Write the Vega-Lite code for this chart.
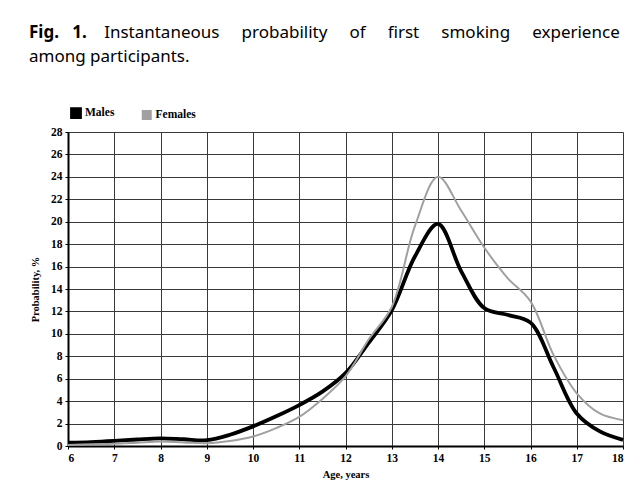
{
  "$schema": "https://vega.github.io/schema/vega-lite/v6.json",
  "width": 555,
  "height": 314,
  "autosize": {"type": "none"},
  "padding": {"left": 68, "top": 132, "right": 18, "bottom": 51},
  "background": "white",
  "title": {
    "text": "Fig.\u00a0\u00a0\u00a01.",
    "subtitle": [
      "\u200b\u00a0\u00a0\u00a0\u00a0\u00a0\u00a0\u00a0\u00a0\u00a0\u00a0\u00a0\u00a0\u00a0\u00a0\u00a0\u00a0\u00a0Instantaneous\u00a0\u00a0\u00a0\u00a0\u00a0probability\u00a0\u00a0\u00a0\u00a0\u00a0of\u00a0\u00a0\u00a0\u00a0\u00a0first\u00a0\u00a0\u00a0\u00a0\u00a0smoking\u00a0\u00a0\u00a0\u00a0\u00a0experience",
      "among participants."
    ],
    "anchor": "start",
    "frame": "group",
    "dx": -39,
    "offset": 41,
    "font": "Noto Sans",
    "fontSize": 17,
    "fontWeight": "bold",
    "color": "#000000",
    "subtitleFont": "Noto Sans",
    "subtitleFontSize": 17,
    "subtitleFontWeight": "normal",
    "subtitleColor": "#000000",
    "subtitleLineHeight": 24,
    "subtitlePadding": -17
  },
  "data": {
    "values": [
      {"age": 6, "p": 0.3, "sex": "Males"},
      {"age": 6.5, "p": 0.35, "sex": "Males"},
      {"age": 7, "p": 0.45, "sex": "Males"},
      {"age": 7.5, "p": 0.58, "sex": "Males"},
      {"age": 8, "p": 0.68, "sex": "Males"},
      {"age": 8.5, "p": 0.6, "sex": "Males"},
      {"age": 9, "p": 0.52, "sex": "Males"},
      {"age": 9.5, "p": 1.0, "sex": "Males"},
      {"age": 10, "p": 1.75, "sex": "Males"},
      {"age": 10.5, "p": 2.65, "sex": "Males"},
      {"age": 11, "p": 3.65, "sex": "Males"},
      {"age": 11.5, "p": 4.85, "sex": "Males"},
      {"age": 12, "p": 6.5, "sex": "Males"},
      {"age": 12.5, "p": 9.2, "sex": "Males"},
      {"age": 13, "p": 12.1, "sex": "Males"},
      {"age": 13.5, "p": 16.9, "sex": "Males"},
      {"age": 14, "p": 19.8, "sex": "Males"},
      {"age": 14.5, "p": 15.6, "sex": "Males"},
      {"age": 15, "p": 12.3, "sex": "Males"},
      {"age": 15.5, "p": 11.7, "sex": "Males"},
      {"age": 16, "p": 11.0, "sex": "Males"},
      {"age": 16.5, "p": 7.0, "sex": "Males"},
      {"age": 17, "p": 2.9, "sex": "Males"},
      {"age": 17.5, "p": 1.3, "sex": "Males"},
      {"age": 18, "p": 0.55, "sex": "Males"},
      {"age": 6, "p": 0.1, "sex": "Females"},
      {"age": 6.5, "p": 0.15, "sex": "Females"},
      {"age": 7, "p": 0.2, "sex": "Females"},
      {"age": 7.5, "p": 0.3, "sex": "Females"},
      {"age": 8, "p": 0.4, "sex": "Females"},
      {"age": 8.5, "p": 0.32, "sex": "Females"},
      {"age": 9, "p": 0.25, "sex": "Females"},
      {"age": 9.5, "p": 0.45, "sex": "Females"},
      {"age": 10, "p": 0.85, "sex": "Females"},
      {"age": 10.5, "p": 1.6, "sex": "Females"},
      {"age": 11, "p": 2.6, "sex": "Females"},
      {"age": 11.5, "p": 4.2, "sex": "Females"},
      {"age": 12, "p": 6.2, "sex": "Females"},
      {"age": 12.5, "p": 9.5, "sex": "Females"},
      {"age": 13, "p": 12.4, "sex": "Females"},
      {"age": 13.5, "p": 19.6, "sex": "Females"},
      {"age": 14, "p": 24.0, "sex": "Females"},
      {"age": 14.5, "p": 21.0, "sex": "Females"},
      {"age": 15, "p": 17.7, "sex": "Females"},
      {"age": 15.5, "p": 15.0, "sex": "Females"},
      {"age": 16, "p": 12.9, "sex": "Females"},
      {"age": 16.5, "p": 8.1, "sex": "Females"},
      {"age": 17, "p": 4.7, "sex": "Females"},
      {"age": 17.5, "p": 2.9, "sex": "Females"},
      {"age": 18, "p": 2.3, "sex": "Females"}
    ]
  },
  "mark": {"type": "line", "interpolate": "catmull-rom"},
  "encoding": {
    "x": {
      "field": "age",
      "type": "quantitative",
      "scale": {"domain": [6, 18], "nice": false},
      "axis": {
        "values": [6, 7, 8, 9, 10, 11, 12, 13, 14, 15, 16, 17, 18],
        "title": "Age, years",
        "titlePadding": 6
      }
    },
    "y": {
      "field": "p",
      "type": "quantitative",
      "scale": {"domain": [0, 28], "nice": false},
      "axis": {
        "values": [0, 2, 4, 6, 8, 10, 12, 14, 16, 18, 20, 22, 24, 26, 28],
        "title": "Probability, %",
        "titlePadding": 10
      }
    },
    "color": {
      "field": "sex",
      "type": "nominal",
      "scale": {"domain": ["Males", "Females"], "range": ["#000000", "#a0a0a0"]},
      "legend": {
        "title": null,
        "orient": "none",
        "legendX": 2,
        "legendY": -25,
        "direction": "horizontal",
        "symbolType": "square",
        "symbolSize": 64,
        "symbolStrokeWidth": 1,
        "labelFont": "Liberation Serif",
        "labelFontWeight": "bold",
        "labelFontSize": 11.5,
        "labelColor": "#000000",
        "labelOffset": 3,
        "columnPadding": 23,
        "encode": {
          "symbols": {
            "update": {
              "fill": {"scale": "color", "field": "value"},
              "stroke": {"value": "#222222"},
              "fillOpacity": {"value": 1}
            }
          }
        }
      }
    },
    "strokeWidth": {
      "field": "sex",
      "type": "nominal",
      "scale": {"domain": ["Males", "Females"], "range": [3.8, 2]},
      "legend": null
    }
  },
  "config": {
    "view": {"stroke": null},
    "axis": {
      "labelFont": "Liberation Serif",
      "labelFontWeight": "bold",
      "labelFontSize": 11.5,
      "labelColor": "#000000",
      "titleFont": "Liberation Serif",
      "titleFontWeight": "bold",
      "titleFontSize": 10.5,
      "titleColor": "#000000",
      "domainColor": "#000000",
      "domainWidth": 2,
      "tickColor": "#000000",
      "tickSize": 3,
      "gridColor": "#3a3a3a",
      "gridWidth": 1,
      "gridOpacity": 1,
      "labelPadding": 3
    }
  }
}
